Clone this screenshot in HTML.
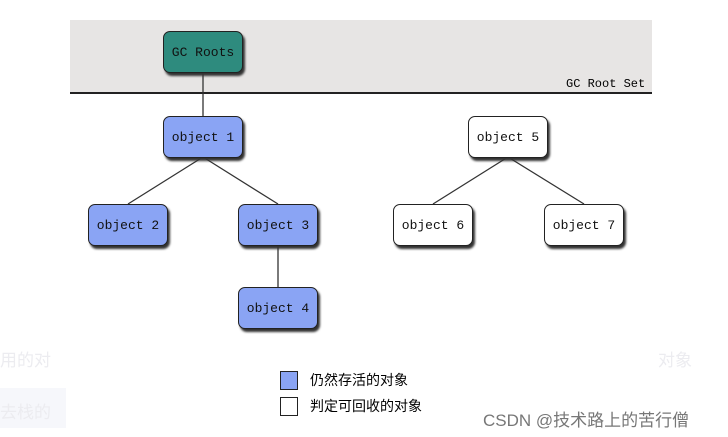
<html><head><style>
body{margin:0;width:728px;height:437px;background:#fff;position:relative;overflow:hidden;font-family:"Liberation Mono","WenQuanYi Zen Hei",monospace}
.n{position:absolute;width:78px;height:40px;border:1px solid #222;border-radius:7px;box-shadow:2px 3px 2px #333;display:flex;align-items:center;justify-content:center;font-size:13px;color:#111}
.b{background:#8aa4f4}.w{background:#fff}.t{background:#2e8b7e}
.f{position:absolute;color:#ececf0;font-family:"Liberation Sans","Noto Sans CJK SC",sans-serif;font-size:17px}
</style></head><body>
<div class="f" style="left:0;top:346px">用的对</div>
<div class="f" style="left:658px;top:346px">对象</div>
<div style="position:absolute;left:0;top:388px;width:66px;height:40px;background:#f6f7fb"></div>
<div class="f" style="left:0;top:398px">去栈的</div>
<div style="position:absolute;left:70px;top:20px;width:582px;height:73px;background:#e7e5e4"></div>
<div style="position:absolute;left:70px;top:92px;width:582px;height:2px;background:#222"></div>
<div style="position:absolute;left:566px;top:77px;font-size:12px">GC Root Set</div>
<svg style="position:absolute;left:0;top:0" width="728" height="437"><g stroke="#333" stroke-width="1.3">
<line x1="203" y1="73" x2="203" y2="116"/>
<line x1="203" y1="157" x2="128" y2="204"/><line x1="203" y1="157" x2="278" y2="204"/>
<line x1="278" y1="245" x2="278" y2="287"/>
<line x1="508" y1="157" x2="433" y2="204"/><line x1="508" y1="157" x2="584" y2="204"/></g></svg>
<div class="n t" style="left:163px;top:31px">GC Roots</div>
<div class="n b" style="left:163px;top:116px">object 1</div>
<div class="n w" style="left:468px;top:116px">object 5</div>
<div class="n b" style="left:88px;top:204px">object 2</div>
<div class="n b" style="left:238px;top:204px">object 3</div>
<div class="n w" style="left:393px;top:204px">object 6</div>
<div class="n w" style="left:544px;top:204px">object 7</div>
<div class="n b" style="left:238px;top:287px">object 4</div>
<div style="position:absolute;left:280px;top:371px;width:16px;height:17px;background:#8aa4f4;border:1px solid #222"></div>
<div style="position:absolute;left:280px;top:397px;width:16px;height:17px;background:#fff;border:1px solid #222"></div>
<div style="position:absolute;left:310px;top:371px;font-size:14px;font-family:'Noto Sans CJK SC',sans-serif;line-height:18px">仍然存活的对象</div>
<div style="position:absolute;left:310px;top:397px;font-size:14px;font-family:'Noto Sans CJK SC',sans-serif;line-height:18px">判定可回收的对象</div>
<div style="position:absolute;left:483px;top:406px;font-size:17px;color:#777;font-family:'Liberation Sans','Noto Sans CJK SC',sans-serif">CSDN @技术路上的苦行僧</div>
</body></html>
